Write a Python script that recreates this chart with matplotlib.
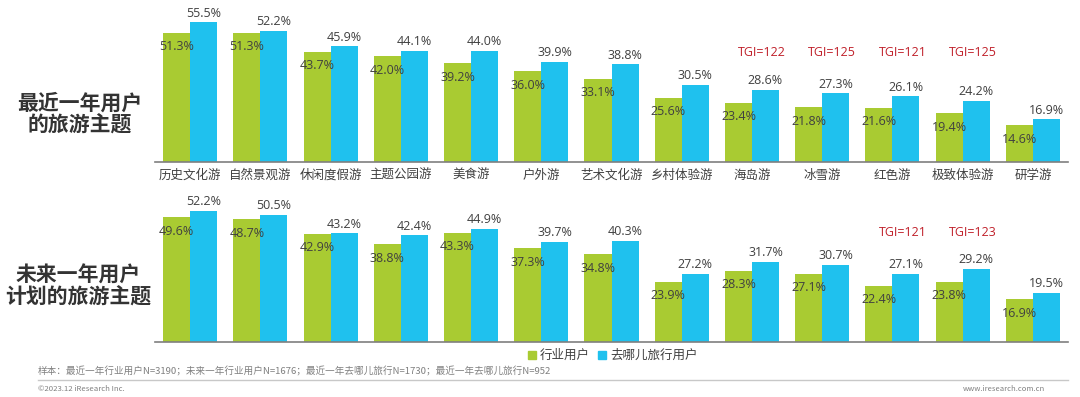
import matplotlib
matplotlib.use("Agg")
import matplotlib.pyplot as plt
import numpy as np

plt.rcParams['font.family'] = ['Noto Sans CJK SC', 'DejaVu Sans']

categories = ['历史文化游', '自然景观游', '休闲度假游', '主题公园游', '美食游', '户外游', '艺术文化游',
              '乡村体验游', '海岛游', '冰雪游', '红色游', '极致体验游', '研学游']

recent_industry = [51.3, 51.3, 43.7, 42.0, 39.2, 36.0, 33.1, 25.6, 23.4, 21.8, 21.6, 19.4, 14.6]
recent_qunar = [55.5, 52.2, 45.9, 44.1, 44.0, 39.9, 38.8, 30.5, 28.6, 27.3, 26.1, 24.2, 16.9]
recent_tgi = {8: 122, 9: 125, 10: 121, 11: 125}

future_industry = [49.6, 48.7, 42.9, 38.8, 43.3, 37.3, 34.8, 23.9, 28.3, 27.1, 22.4, 23.8, 16.9]
future_qunar = [52.2, 50.5, 43.2, 42.4, 44.9, 39.7, 40.3, 27.2, 31.7, 30.7, 27.1, 29.2, 19.5]
future_tgi = {10: 121, 11: 123}

series_names = ['行业用户', '去哪儿旅行用户']
panel_titles = ['最近一年用户\n的旅游主题', '未来一年用户\n计划的旅游主题']

GREEN = '#A9CB32'
BLUE = '#1FC1EE'
TXT = '#404040'
RED = '#C0202A'

W, H = 1080, 397
fig = plt.figure(figsize=(W / 100, H / 100), dpi=100)

x = np.arange(len(categories))
bw = 0.385


def draw_panel(ax, green, blue, tgi, show_cats):
    ax.bar(x - bw / 2, green, bw, color=GREEN)
    ax.bar(x + bw / 2, blue, bw, color=BLUE)
    for i in range(len(x)):
        ax.annotate(f'{green[i]:.1f}%', (x[i] - bw / 2, green[i]), xytext=(0, -10),
                    textcoords='offset points', ha='center', va='center',
                    fontsize=9, color=TXT, family=['Open Sans', 'DejaVu Sans'])
        ax.annotate(f'{blue[i]:.1f}%', (x[i] + bw / 2, blue[i]), xytext=(0, 2),
                    textcoords='offset points', ha='center', va='bottom',
                    fontsize=9, color=TXT, family=['Open Sans', 'DejaVu Sans'])
    for i, v in tgi.items():
        ax.text(x[i] + bw / 2 - 0.05, 43.6, f'TGI={v}', ha='center', va='center',
                fontsize=9, color=RED, family=['Open Sans', 'DejaVu Sans'])
    ax.set_xlim(-0.5, 12.5)
    ax.set_ylim(0, 60)
    for s in ['top', 'right', 'left']:
        ax.spines[s].set_visible(False)
    ax.spines['bottom'].set_color('#7F7F7F')
    ax.spines['bottom'].set_linewidth(1.2)
    ax.set_yticks([])
    ax.tick_params(axis='x', length=0, pad=5)
    if show_cats:
        ax.set_xticks(x)
        ax.set_xticklabels(categories, fontsize=9, color=TXT)
    else:
        ax.set_xticks([])


ax1 = fig.add_axes([155 / W, (H - 162) / H, 913 / W, 151 / H])
draw_panel(ax1, recent_industry, recent_qunar, recent_tgi, True)
ax2 = fig.add_axes([155 / W, (H - 342) / H, 913 / W, 151 / H])
draw_panel(ax2, future_industry, future_qunar, future_tgi, False)

fig.text(80 / W, 1 - 114 / H, panel_titles[0], ha='center', va='center', fontsize=15,
         fontweight='bold', color='#333333', linespacing=1.1)
fig.text(78 / W, 1 - 286 / H, panel_titles[1], ha='center', va='center', fontsize=15,
         fontweight='bold', color='#333333', linespacing=1.1)

# legend
fig.patches.append(plt.Rectangle((528 / W, 1 - 359 / H), 8 / W, 8 / H, color=GREEN,
                                 transform=fig.transFigure, figure=fig))
fig.text(540 / W, 1 - 355 / H, series_names[0], ha='left', va='center', fontsize=9, color=TXT)
fig.patches.append(plt.Rectangle((598 / W, 1 - 359 / H), 8 / W, 8 / H, color=BLUE,
                                 transform=fig.transFigure, figure=fig))
fig.text(610 / W, 1 - 355 / H, series_names[1], ha='left', va='center', fontsize=9, color=TXT)

fig.text(38 / W, 1 - 371 / H,
         '样本：最近一年行业用户N=3190；未来一年行业用户N=1676；最近一年去哪儿旅行N=1730；最近一年去哪儿旅行N=952',
         ha='left', va='center', fontsize=6.9, color='#808080')
fig.add_artist(plt.Line2D([38 / W, 1068 / W], [1 - 380 / H, 1 - 380 / H], color='#C8C8C8',
                          lw=1, transform=fig.transFigure))
fig.text(38 / W, 1 - 389 / H, '©2023.12 iResearch Inc.', ha='left', va='center',
         fontsize=5.6, color='#808080')
fig.text(1045 / W, 1 - 389 / H, 'www.iresearch.com.cn', ha='right', va='center',
         fontsize=5.5, color='#808080')

fig.savefig('out.png', dpi=100)
